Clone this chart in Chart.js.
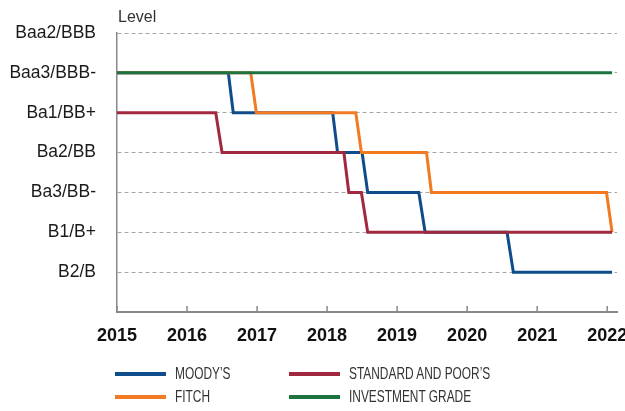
<!DOCTYPE html>
<html>
<head>
<meta charset="utf-8">
<script src="https://cdn.jsdelivr.net/npm/chart.js@4/dist/chart.umd.min.js"></script>
<style>
  html, body { margin: 0; padding: 0; background: #fff; }
  #wrap { position: relative; width: 625px; height: 411px; }
  #legend { position: absolute; left: 0; top: 0; width: 625px; height: 411px; pointer-events: none; }
  .item { position: absolute; display: flex; align-items: center; white-space: nowrap;
          font-family: "Liberation Sans", Arial, sans-serif; font-size: 17px; color: #333; }
  .swatch { width: 51px; height: 4px; margin-right: 9px; flex: none; }
  .txt { display: inline-block; transform: scaleX(0.7); transform-origin: left center; }
</style>
</head>
<body>
<div id="wrap">
  <canvas id="c" width="625" height="411"></canvas>
  <div id="legend"></div>
</div>
<script>
// rating levels, 1 = B2/B ... 7 = Baa2/BBB
const levelLabels = ['', 'B2/B', 'B1/B+', 'Ba3/BB-', 'Ba2/BB', 'Ba1/BB+', 'Baa3/BBB-', 'Baa2/BBB'];
const years = [2015, 2016, 2017, 2018, 2019, 2020, 2021, 2022];

const moodysX = [2015, 2016.59, 2016.66, 2018.08, 2018.15, 2018.50, 2018.58, 2019.31, 2019.40, 2020.57, 2020.66, 2022.07];
const moodysY = [6, 6, 5, 5, 4, 4, 3, 3, 2, 2, 1, 1];

const fitchX = [2015, 2016.91, 2016.99, 2018.41, 2018.49, 2019.42, 2019.49, 2021.99, 2022.07];
const fitchY = [6, 6, 5, 5, 4, 4, 3, 3, 2];

const spX = [2015, 2016.41, 2016.50, 2018.24, 2018.31, 2018.49, 2018.58, 2022.07];
const spY = [5, 5, 4, 4, 3, 3, 2, 2];

const igX = [2015, 2022.07];
const igY = [6, 6];

function pts(xs, ys) {
  return xs.map((x, i) => ({ x: x, y: ys[i] }));
}

const series = [
  { label: 'MOODY\u2019S', xs: moodysX, ys: moodysY, color: '#0e4d8a', order: 4, col: 0, row: 0 },
  { label: 'FITCH', xs: fitchX, ys: fitchY, color: '#f27a22', order: 3, col: 0, row: 1 },
  { label: 'STANDARD AND POOR\u2019S', xs: spX, ys: spY, color: '#a2283f', order: 2, col: 1, row: 0 },
  { label: 'INVESTMENT GRADE', xs: igX, ys: igY, color: '#1d7440', order: 1, col: 1, row: 1 }
];

// upward tick marks on the x axis + "Level" title
const extras = {
  id: 'extras',
  afterDraw(chart) {
    const ctx = chart.ctx;
    const xs = chart.scales.x;
    const area = chart.chartArea;
    ctx.save();
    ctx.strokeStyle = '#888';
    ctx.lineWidth = 1.5;
    xs.ticks.forEach(t => {
      const px = xs.getPixelForValue(t.value);
      ctx.beginPath();
      ctx.moveTo(px, area.bottom);
      ctx.lineTo(px, area.bottom - 6);
      ctx.stroke();
    });
    ctx.fillStyle = '#333';
    ctx.font = '16px "Liberation Sans", Arial, sans-serif';
    ctx.textBaseline = 'alphabetic';
    ctx.fillText('Level', area.left + 1, 22);
    ctx.restore();
  }
};

new Chart(document.getElementById('c'), {
  type: 'line',
  data: {
    datasets: series.map(s => ({
      label: s.label,
      data: pts(s.xs, s.ys),
      borderColor: s.color,
      backgroundColor: s.color,
      borderWidth: 3,
      pointRadius: 0,
      tension: 0,
      fill: false,
      order: s.order
    }))
  },
  options: {
    responsive: false,
    animation: false,
    layout: { padding: { top: 33, right: 8, left: 0, bottom: 0 } },
    plugins: { legend: { display: false }, tooltip: { enabled: false } },
    scales: {
      x: {
        type: 'linear',
        min: 2015,
        max: 2022.14,
        afterBuildTicks: scale => { scale.ticks = years.map(v => ({ value: v })); },
        afterFit: scale => { scale.height = 99; scale.paddingLeft = 0; scale.paddingRight = 0; },
        grid: { display: false, drawTicks: false },
        border: { color: '#888', width: 2 },
        ticks: {
          padding: 13,
          color: '#111',
          font: { family: '"Liberation Sans", Arial, sans-serif', size: 18, weight: 'bold' },
          callback: v => String(v)
        }
      },
      y: {
        min: 0,
        max: 7,
        afterBuildTicks: scale => { scale.ticks = levelLabels.map((l, i) => ({ value: i })); },
        afterFit: scale => { scale.width = 117; scale.paddingTop = 0; scale.paddingBottom = 0; },
        grid: { color: '#a6a6a6', lineWidth: 1, drawTicks: false },
        border: { color: '#888', width: 1.5, dash: [4, 3] },
        ticks: {
          padding: 21,
          color: '#1a1a1a',
          font: { family: '"Liberation Sans", Arial, sans-serif', size: 17.5 },
          callback: v => levelLabels[v]
        }
      }
    }
  },
  plugins: [extras]
});

// legend built from the same series list
const legend = document.getElementById('legend');
series.forEach(s => {
  const d = document.createElement('div');
  d.className = 'item';
  d.style.left = (s.col ? 289 : 115) + 'px';
  d.style.top = (s.row ? 387 : 364) + 'px';
  d.innerHTML = '<span class="swatch" style="background:' + s.color + '"></span><span class="txt">' + s.label + '</span>';
  legend.appendChild(d);
});
</script>
</body>
</html>
